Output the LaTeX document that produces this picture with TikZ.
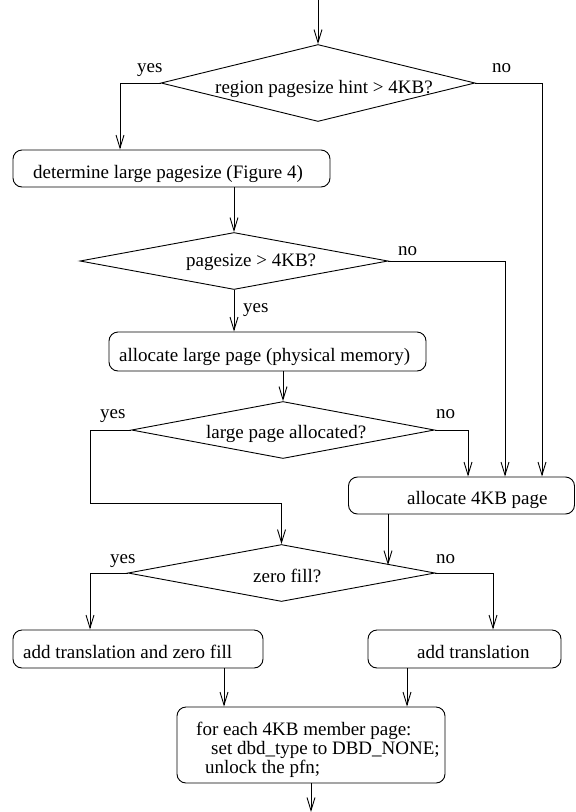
\documentclass[tikz,border=0pt]{standalone}
\usepackage{fontspec}
\setmainfont{Liberation Serif}
\usetikzlibrary{shapes.geometric,arrows.meta}
\newcommand{\lblfont}{\fontsize{19}{19}\selectfont}
\tikzset{
  box/.style={draw, rounded corners=9pt, inner sep=0pt, line width=0.9pt},
  decision/.style={draw, diamond, inner sep=0pt, line width=0.9pt},
  txt/.style={inner sep=0pt, anchor=base west, font=\lblfont},
  arr/.style={line width=0.9pt, -{Straight Barb[length=13pt,width=8pt,line width=0.9pt]}},
  plain/.style={line width=0.9pt}
}
\begin{document}
\begin{tikzpicture}[x=1pt,y=-1pt]
\useasboundingbox (0,0) rectangle (576,812);

% decisions
\node[decision, minimum width=314pt, minimum height=77pt] (d1) at (318,83) {};
\node[decision, minimum width=308pt, minimum height=57pt] (d2) at (234,261) {};
\node[decision, minimum width=303pt, minimum height=57pt] (d3) at (283,430) {};
\node[decision, minimum width=307pt, minimum height=57pt] (d4) at (281.5,573) {};

% process boxes
\node[box, minimum width=317pt, minimum height=37pt] (b1) at (171.5,168.5) {};
\node[box, minimum width=317pt, minimum height=39pt] (b2) at (267.5,351.5) {};
\node[box, minimum width=226pt, minimum height=37pt] (b3) at (461.5,495.5) {};
\node[box, minimum width=250pt, minimum height=38pt] (b4) at (138,649) {};
\node[box, minimum width=193pt, minimum height=38pt] (b5) at (464.5,649) {};
\node[box, minimum width=268pt, minimum height=76pt] (b6) at (311,745) {};

% texts
\node[txt] (d1t) at (215,93) {region pagesize hint > 4KB?};
\node[txt] (y1) at (137,72) {yes};
\node[txt] (n1) at (492,72) {no};
\node[txt] (b1t) at (33,178) {determine large pagesize (Figure 4)};
\node[txt] (d2t) at (186,266) {pagesize > 4KB?};
\node[txt] (n2) at (398,255) {no};
\node[txt] (y2) at (243,312) {yes};
\node[txt] (b2t) at (119,361) {allocate large page (physical memory)};
\node[txt] (y3) at (100,418) {yes};
\node[txt] (n3) at (436,418) {no};
\node[txt] (d3t) at (206,438) {large page allocated?};
\node[txt] (b3t) at (407,504) {allocate 4KB page};
\node[txt] (y4) at (110,563) {yes};
\node[txt] (n4) at (436,563) {no};
\node[txt] (d4t) at (253,582) {zero fill?};
\node[txt] (b4t) at (23,658) {add translation and zero fill};
\node[txt] (b5t) at (417,658) {add translation};
\node[txt] (b6a) at (196,735) {for each 4KB member page:};
\node[txt] (b6b) at (211,754) {set dbd\_type to DBD\_NONE;};
\node[txt] (b6c) at (205,773) {unlock the pfn;};

% free ends and junctions
\coordinate (start) at (318,0);
\coordinate (finish) at (311,812);
\coordinate (j1) at (90,503);

% connectors
\draw[arr] (start) -- (d1.north);
\draw[arr] (d1.west) -| ([xshift=-51.5pt]b1.north);
\draw[arr] (d1.east) -| ([xshift=80.5pt]b3.north);
\draw[arr] ([xshift=62.5pt]b1.south) -- (d2.north);
\draw[arr] (d2.east) -| ([xshift=43.5pt]b3.north);
\draw[arr] (d2.south) -- (d2.south |- b2.north);
\draw[arr] (d3.north |- b2.south) -- (d3.north);
\draw[arr] (d3.east) -| ([xshift=6.5pt]b3.north);
\draw[arr] (d3.west) -| (j1) -| (d4.north);
\draw[arr] ([xshift=-73.5pt]b3.south) -- ([xshift=-73.5pt]b3.south |- d4.4.7);
\draw[arr] (d4.west) -| ([xshift=-48pt]b4.north);
\draw[arr] (d4.east) -| ([xshift=28.5pt]b5.north);
\draw[arr] ([xshift=86pt]b4.south) -- ([xshift=-87pt]b6.north);
\draw[arr] ([xshift=-57.5pt]b5.south) -- ([xshift=96pt]b6.north);
\draw[arr] (b6.south) -- (b6.south |- finish);
\end{tikzpicture}
\end{document}
